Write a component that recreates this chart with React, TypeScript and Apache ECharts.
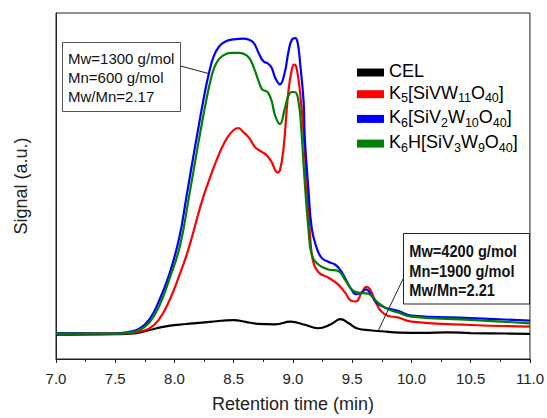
import React, { useEffect, useRef } from 'react';
import * as echarts from 'echarts';

// Retention time (min) / signal (a.u., arbitrary scale 0..349)
const celData: [number, number][] = [
  [7.0, 24.5], [7.5, 25], [7.65, 25.7], [7.75, 28], [7.85, 31], [7.95, 33.5], [8.1, 35.3],
  [8.3, 37.5], [8.5, 39.2], [8.6, 37.5], [8.7, 35.5], [8.85, 35], [8.98, 37.7], [9.1, 34.5],
  [9.21, 31], [9.32, 35], [9.4, 40.3], [9.47, 36], [9.55, 30.5], [9.65, 29], [9.75, 28],
  [9.9, 26.7], [10.1, 26.3], [10.3, 26.8], [10.5, 26.2], [10.8, 25.7], [11.0, 25.3],
];

const k5Data: [number, number][] = [
  [7.0, 26], [7.5, 25.8], [7.6, 26], [7.7, 27.5], [7.79, 31], [7.87, 40], [7.956, 58.7],
  [8.04, 84], [8.1, 104], [8.15, 124], [8.2, 146], [8.25, 166], [8.3, 183], [8.35, 199],
  [8.4, 213], [8.45, 224], [8.5, 231], [8.54, 233], [8.58, 229], [8.63, 223], [8.68, 213.7],
  [8.74, 208.7], [8.78, 205.3], [8.82, 198.7], [8.85, 190.3], [8.87, 188], [8.89, 190.3],
  [8.92, 212], [8.96, 268.7], [8.99, 292], [9.01, 297], [9.03, 293.7], [9.06, 268.7],
  [9.09, 227], [9.12, 167], [9.14, 132], [9.17, 98.7], [9.22, 87], [9.3, 82], [9.38, 75.3],
  [9.44, 67], [9.49, 58.7], [9.53, 58], [9.58, 67], [9.62, 72.7], [9.65, 70.3], [9.7, 57],
  [9.74, 48.7], [9.8, 43.7], [9.885, 42], [10.0, 37.7], [10.5, 34.3], [11.0, 32.7],
];

const k6Data: [number, number][] = [
  [7.0, 26], [7.5, 25.7], [7.6, 27], [7.7, 30.3], [7.79, 40.3], [7.87, 58.7], [7.956, 85.3],
  [8.04, 122], [8.1, 163], [8.15, 198], [8.2, 232], [8.25, 265], [8.29, 288], [8.33, 305],
  [8.375, 315], [8.43, 320.3], [8.515, 322.7], [8.58, 323.2], [8.63, 322], [8.67, 318.7],
  [8.71, 308.7], [8.75, 300.3], [8.79, 298], [8.82, 293.7], [8.85, 283.7], [8.89, 277],
  [8.93, 288.7], [8.96, 308.7], [8.99, 322], [9.02, 323.7], [9.04, 318.7], [9.06, 298.7],
  [9.09, 259], [9.1, 222], [9.13, 172], [9.158, 132], [9.2, 112], [9.242, 102], [9.298, 98],
  [9.354, 95.3], [9.396, 90.3], [9.438, 82], [9.493, 70.3], [9.535, 65.3], [9.577, 67],
  [9.619, 70.3], [9.647, 67], [9.703, 57], [9.773, 52], [9.885, 48.7], [10.0, 43.7],
  [10.5, 41.3], [11.0, 38.7],
];

const k6hData: [number, number][] = [
  [7.0, 25.5], [7.5, 25.5], [7.6, 26.5], [7.7, 29], [7.79, 37], [7.872, 53.7], [7.956, 80.3],
  [8.046, 114], [8.12, 162], [8.2, 217], [8.235, 240], [8.27, 262], [8.3, 279], [8.333, 293],
  [8.375, 302.5], [8.43, 307.5], [8.487, 308.7], [8.54, 308.7], [8.58, 308], [8.63, 303.7],
  [8.67, 293.7], [8.71, 280.3], [8.74, 272], [8.77, 270.3], [8.79, 268.7], [8.82, 260.3],
  [8.85, 245.3], [8.89, 237], [8.93, 252], [8.96, 265.3], [8.99, 269.3], [9.02, 269],
  [9.05, 257], [9.07, 232], [9.1, 177], [9.13, 132], [9.158, 105.3], [9.214, 95.3],
  [9.298, 90.3], [9.382, 88.7], [9.438, 80.3], [9.493, 70.3], [9.549, 67], [9.633, 66],
  [9.717, 57], [9.8, 50.3], [9.885, 47], [10.0, 42.7], [10.5, 39.5], [11.0, 36],
];

const seriesNames = ['CEL', 'K5[SiVW11O40]', 'K6[SiV2W10O40]', 'K6H[SiV3W9O40]'];
const seriesColors = ['#000000', '#ff0000', '#0000ff', '#008000'];
const legendLabels: Record<string, string> = {
  'CEL': '{n|CEL}',
  'K5[SiVW11O40]': '{n|K}{s|5}{n|[SiVW}{s|11}{n|O}{s|40}{n|]}',
  'K6[SiV2W10O40]': '{n|K}{s|6}{n|[SiV}{s|2}{n|W}{s|10}{n|O}{s|40}{n|]}',
  'K6H[SiV3W9O40]': '{n|K}{s|6}{n|H[SiV}{s|3}{n|W}{s|9}{n|O}{s|40}{n|]}',
};

const xTicks = { min: 7, max: 11, interval: 0.5 };
const note1 = ['Mw=1300 g/mol', 'Mn=600 g/mol', 'Mw/Mn=2.17'];
const note2 = ['Mw=4200 g/mol', 'Mn=1900 g/mol', 'Mw/Mn=2.21'];
const note1Anchor: [number, number] = [8.286, 288];
const note2Anchor: [number, number] = [9.72, 28.7];

const FONT = "'Liberation Sans', Arial, sans-serif";

export default function App() {
  const ref = useRef<HTMLDivElement>(null);
  useEffect(() => {
    if (!ref.current) return;
    const chart = echarts.init(ref.current, undefined, { renderer: 'svg' });
    const allData = [celData, k5Data, k6Data, k6hData];
    chart.setOption({
      animation: false,
      backgroundColor: '#ffffff',
      grid: {
        left: 56, right: 14, top: 13, bottom: 56,
        show: true, borderColor: '#222', borderWidth: 1, backgroundColor: 'transparent',
      },
      legend: {
        orient: 'vertical',
        left: 357,
        top: 62,
        padding: 0,
        itemGap: 3.7,
        itemWidth: 27,
        itemHeight: 8,
        icon: 'rect',
        data: seriesNames,
        formatter: (name: string) => legendLabels[name] || name,
        textStyle: {
          color: '#000',
          fontFamily: FONT,
          fontSize: 18,
          rich: {
            n: { fontSize: 18, lineHeight: 21, fontFamily: FONT, color: '#000', verticalAlign: 'top' },
            s: { fontSize: 12.5, lineHeight: 8, fontFamily: FONT, color: '#000', verticalAlign: 'bottom' },
          },
        },
      },
      xAxis: {
        type: 'value',
        min: xTicks.min,
        max: xTicks.max,
        interval: xTicks.interval,
        name: 'Retention time (min)',
        nameLocation: 'middle',
        nameGap: 36,
        nameTextStyle: { fontSize: 18, fontFamily: FONT, color: '#222' },
        axisLine: { show: true, lineStyle: { color: '#222', width: 1 } },
        axisTick: { show: true, inside: false, length: 4, lineStyle: { color: '#222' } },
        minorTick: { show: true, splitNumber: 2, length: 3, lineStyle: { color: '#222' } },
        axisLabel: {
          fontSize: 15, fontFamily: FONT, color: '#222', margin: 12,
          formatter: (v: number) => v.toFixed(1),
        },
        splitLine: { show: false },
      },
      yAxis: {
        type: 'value',
        min: 0,
        max: 349,
        name: 'Signal (a.u.)',
        nameLocation: 'middle',
        nameGap: 26,
        nameTextStyle: { fontSize: 18, fontFamily: FONT, color: '#222' },
        axisLine: { show: true, lineStyle: { color: '#222', width: 1 } },
        axisTick: { show: false },
        axisLabel: { show: false },
        splitLine: { show: false },
      },
      series: seriesNames.map((name, i) => ({
        name,
        type: 'line',
        data: allData[i],
        showSymbol: false,
        symbol: 'none',
        smooth: 0.45,
        color: seriesColors[i],
        lineStyle: { color: seriesColors[i], width: 2.2 },
      })),
    });

    const a1 = chart.convertToPixel({ gridIndex: 0 }, note1Anchor) as number[];
    const a2 = chart.convertToPixel({ gridIndex: 0 }, note2Anchor) as number[];
    const box1 = { x: 62.5, y: 42.5, w: 118, h: 69 };
    const box2 = { x: 403.5, y: 233.5, w: 126, h: 70.5 };
    chart.setOption({
      graphic: [
        {
          type: 'line', z: 90,
          shape: { x1: box1.x + box1.w, y1: 66, x2: a1[0], y2: a1[1] },
          style: { stroke: '#222', lineWidth: 1 },
        },
        {
          type: 'line', z: 90,
          shape: { x1: box2.x, y1: 278, x2: a2[0], y2: a2[1] },
          style: { stroke: '#222', lineWidth: 1 },
        },
        {
          type: 'rect', z: 100,
          shape: { x: box1.x, y: box1.y, width: box1.w, height: box1.h },
          style: { fill: '#fff', stroke: '#555', lineWidth: 1 },
        },
        {
          type: 'text', z: 101, x: 68, y: 49,
          style: {
            text: note1.join('\n'), fontSize: 15, fontFamily: FONT, fill: '#111',
            lineHeight: 19, verticalAlign: 'top', align: 'left',
          },
        },
        {
          type: 'rect', z: 100,
          shape: { x: box2.x, y: box2.y, width: box2.w, height: box2.h },
          style: { fill: '#fff', stroke: '#222', lineWidth: 1 },
        },
        {
          type: 'text', z: 101, x: 409.3, y: 242, scaleX: 0.86,
          style: {
            text: note2.join('\n'), fontSize: 17, fontWeight: 'bold', fontFamily: FONT, fill: '#111',
            lineHeight: 19.2, verticalAlign: 'top', align: 'left',
          },
        },
      ],
    });
    return () => chart.dispose();
  }, []);
  return (
    <div
      ref={ref}
      style={{ position: 'fixed', left: 0, top: 0, width: 547, height: 418, background: '#fff' }}
    />
  );
}
